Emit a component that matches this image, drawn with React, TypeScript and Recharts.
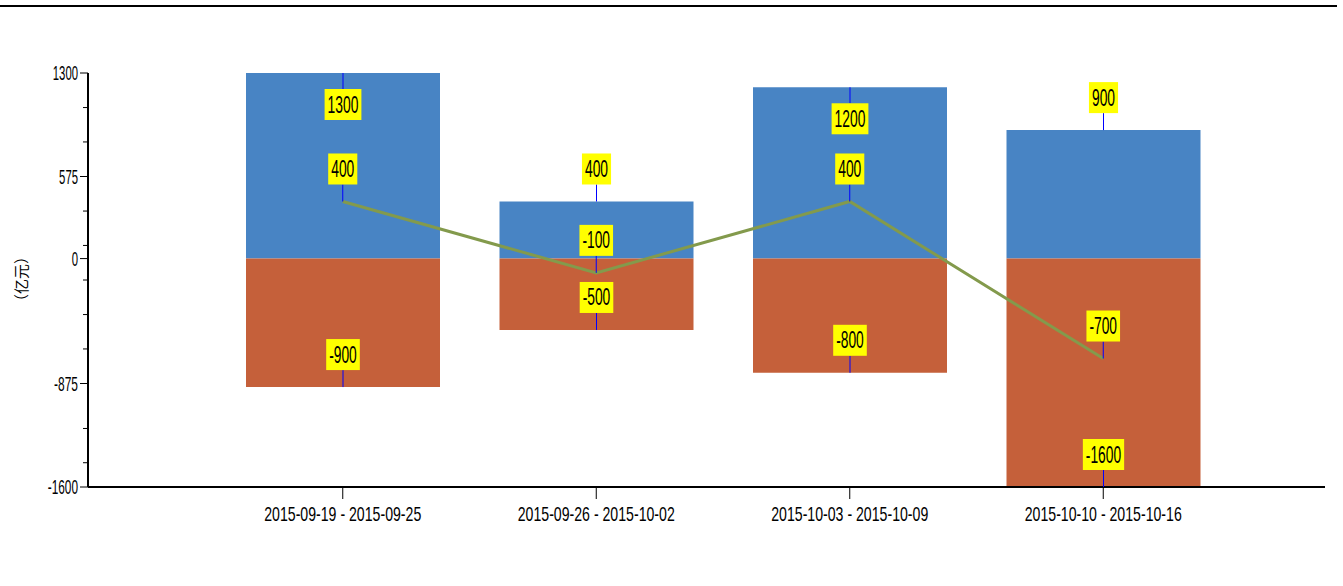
import { ComposedChart, Bar, Line, XAxis, YAxis, LabelList } from 'recharts'

const categories = ['2015-09-19 - 2015-09-25', '2015-09-26 - 2015-10-02', '2015-10-03 - 2015-10-09', '2015-10-10 - 2015-10-16']
const inflow = [1300, 400, 1200, 900]
const outflow = [-900, -500, -800, -1600]
const net = [400, -100, 400, -700]
const majorTicks = [1300, 575, 0, -875, -1600]
const minorTicks = [1058, 817, 333, 92, -150, -392, -633, -1190, -1430]

const data = categories.map((name, i) => ({ name, inflow: inflow[i], outflow: outflow[i], net: net[i] }))
const allTicks = [...majorTicks, ...minorTicks].sort((a, b) => b - a)

const FONT = "'Liberation Sans Narrow', 'Liberation Sans', Arial, sans-serif"
const PLOT_TOP = 73

// rough width of the narrow bitmap-like font
const textW = (s: string, digit: number, dash: number, space: number) =>
  s.split('').reduce((w, c) => w + (c === '-' ? dash : c === ' ' ? space : digit), 0)

function ValueBox({ px, py, value }: { px: number; py: number; value: number }) {
  const label = String(value)
  const tw = textW(label, 7.7, 4.5, 4)
  const bw = tw + 6
  const bh = 31
  const above = py - 17 - bh >= PLOT_TOP
  const boxTop = above ? py - 17 - bh : py + 16
  const lineEnd = above ? py - 17 : py + 16
  return (
    <g>
      <line x1={px} y1={py} x2={px} y2={lineEnd} stroke="#0000ff" strokeWidth={1} />
      <rect x={px - bw / 2} y={boxTop} width={bw} height={bh} fill="#ffff00" />
      <text
        x={px}
        y={boxTop + bh / 2 + 8}
        textAnchor="middle"
        fontFamily={FONT}
        fontSize={23}
        fill="#000"
        textLength={tw}
        lengthAdjust="spacingAndGlyphs"
      >
        {label}
      </text>
    </g>
  )
}

const barLabel = (props: any) => {
  const { x, y, width, height, value } = props
  const top = Math.min(y, y + height)
  const bottom = Math.max(y, y + height)
  const py = value >= 0 ? top : bottom
  return <ValueBox px={x + width / 2} py={py} value={value} />
}

const lineLabel = (props: any) => {
  const { x, y, value } = props
  return <ValueBox px={x} py={y} value={value} />
}

const YTick = (props: any) => {
  const { x, y, payload } = props
  const v = payload.value
  const major = majorTicks.includes(v)
  const s = String(v)
  return (
    <g>
      <line x1={x - (major ? 8 : 5)} y1={y} x2={x} y2={y} stroke="#000" strokeWidth={1} />
      {major && (
        <text
          x={x - 10}
          y={y + 7}
          textAnchor="end"
          fontFamily={FONT}
          fontSize={21}
          fill="#000"
          textLength={textW(s, 6.3, 5, 4)}
          lengthAdjust="spacingAndGlyphs"
        >
          {s}
        </text>
      )}
    </g>
  )
}

const XTick = (props: any) => {
  const { x, y, payload } = props
  return (
    <g>
      <line x1={x} y1={y} x2={x} y2={y + 12} stroke="#000" strokeWidth={1} />
      <text
        x={x}
        y={y + 34}
        textAnchor="middle"
        fontFamily={FONT}
        fontSize={21}
        fill="#000"
        textLength={157}
        lengthAdjust="spacingAndGlyphs"
      >
        {payload.value}
      </text>
    </g>
  )
}

export default function App() {
  return (
    <div style={{ position: 'absolute', left: 0, top: 0, width: 1343, height: 586, background: '#fff' }}>
      <div style={{ position: 'absolute', left: 0, top: 5, width: 1337, height: 2, background: '#000' }} />
      <div
        style={{
          position: 'absolute',
          left: 20,
          top: 279,
          transform: 'translate(-50%, -50%) rotate(-90deg)',
          fontFamily: "'Noto Sans CJK SC', sans-serif",
          fontSize: 15,
          whiteSpace: 'nowrap',
          color: '#000',
        }}
      >
        （亿元）
      </div>
      <ComposedChart
        width={1343}
        height={586}
        data={data}
        stackOffset="sign"
        margin={{ top: PLOT_TOP, right: 18, left: 0, bottom: 59 }}
      >
        <XAxis
          dataKey="name"
          height={40}
          padding={{ left: 128, right: 95 }}
          axisLine={{ stroke: '#000', strokeWidth: 2 }}
          tickLine={false}
          tickSize={0}
          tickMargin={0}
          tick={<XTick />}
          interval={0}
        />
        <YAxis
          width={88}
          domain={[-1600, 1300]}
          ticks={allTicks}
          interval={0}
          allowDataOverflow
          axisLine={{ stroke: '#000', strokeWidth: 2 }}
          tickLine={false}
          tickSize={0}
          tickMargin={0}
          tick={<YTick />}
        />
        <Bar dataKey="inflow" stackId="a" fill="#4884c4" barSize={194} isAnimationActive={false}>
          <LabelList dataKey="inflow" content={barLabel} />
        </Bar>
        <Bar dataKey="outflow" stackId="a" fill="#c5603a" barSize={194} isAnimationActive={false}>
          <LabelList dataKey="outflow" content={barLabel} />
        </Bar>
        <Line
          dataKey="net"
          stroke="#839a4c"
          strokeWidth={3}
          dot={false}
          activeDot={false}
          isAnimationActive={false}
        >
          <LabelList dataKey="net" content={lineLabel} />
        </Line>
      </ComposedChart>
    </div>
  )
}
